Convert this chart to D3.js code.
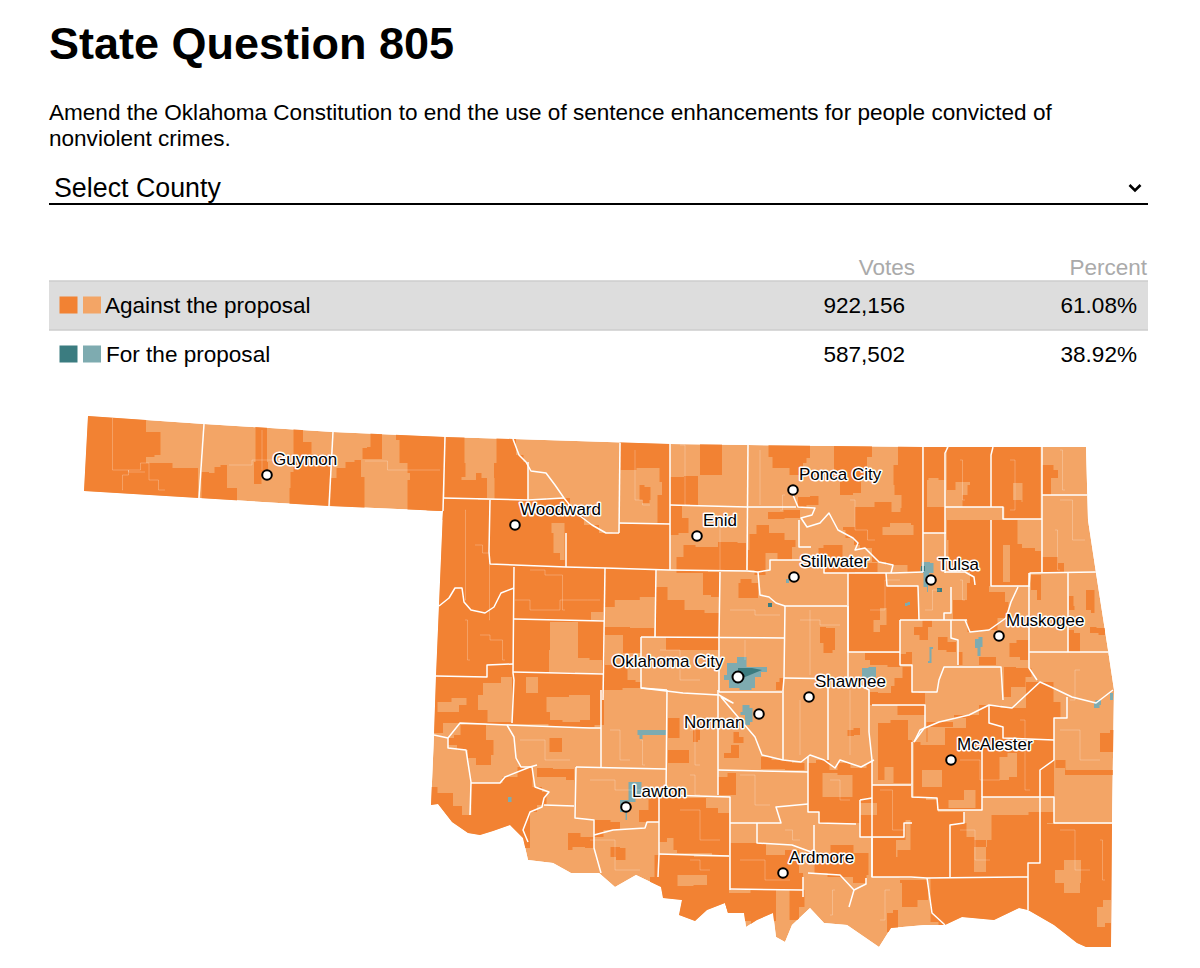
<!DOCTYPE html>
<html>
<head>
<meta charset="utf-8">
<script src="https://cdnjs.cloudflare.com/ajax/libs/d3/7.8.5/d3.min.js"></script>
<style>
  html, body { margin: 0; background: #fff; }
  svg { display: block; font-family: "Liberation Sans", Arial, sans-serif; }
</style>
</head>
<body>
<div id="chart"></div>
<script>
const title = 'State Question 805';
const descLines = [
  'Amend the Oklahoma Constitution to end the use of sentence enhancements for people convicted of',
  'nonviolent crimes.'
];
const selectLabel = 'Select County';
const tableHeads = ['Votes', 'Percent'];
const choices = ['Against the proposal', 'For the proposal'];
const votes = [922156, 587502];
const percents = [61.08, 38.92];
const choiceColors = [['#f28233', '#f3a566'], ['#3b7c80', '#7eabb0']];

const stateOutline = [[88,416],[204,424],[333,432],[445,437],[513,439],[670,444],[748,445],[923,447],[1086,447],
  [1088,520],[1096,573],[1108,650],[1114,690],[1112,823],[1111,947],[1086,947],[1077,943],[1054,925],[1028,910],
  [1019,908],[994,920],[962,917],[945,925],[925,925],[891,928],[879,947],[847,925],[824,923],[810,908],[792,925],
  [785,942],[776,937],[773,913],[757,920],[746,927],[744,913],[728,913],[725,903],[707,910],[695,921],[679,915],
  [682,900],[663,898],[661,887],[636,875],[615,887],[599,873],[571,873],[553,863],[528,860],[523,838],[510,825],
  [493,831],[480,835],[468,833],[452,822],[438,804],[431,805],[434,735],[436,676],[443,511],[329,506],[199,498],[84,491]];

// dark rings run a little past the border where they touch it, the clip trims them
const darkAreas = [
  [[75,505],[75,405],[146,405],[146,432],[158,432],[163,455],[146,457],[146,463],[199,468],[197,505]],
  [[204,472],[214,473],[215,467],[226,465],[228,488],[237,488],[237,510],[199,510]],
  [[256,420],[268,420],[266,462],[270,472],[253,484],[255,462]],
  [[295,420],[300,420],[306,442],[317,455],[331,455],[330,515],[290,515],[289,488],[292,472]],
  [[331,478],[342,468],[349,462],[360,460],[362,477],[367,477],[362,518],[330,518]],
  [[371,425],[381,425],[383,459],[361,459],[364,448],[370,447]],
  [[396,425],[445,425],[443,520],[407,520],[408,480],[412,473],[403,463],[396,440]],
  [[446,425],[465,425],[464,463],[467,477],[456,480],[476,480],[476,473],[487,478],[487,498],[443,498]],
  [[497,430],[513,430],[519,455],[528,462],[528,500],[497,499],[492,478],[496,463]],
  // western block
  [[428,498],[528,500],[564,498],[576,513],[592,525],[606,533],[619,532],[620,524],[670,524],[670,570],[656,570],[655,597],[624,600],[605,607],
   [605,665],[625,665],[630,680],[641,682],[641,688],[604,690],[604,725],[585,727],[512,724],[461,723],[425,733]],
  [[620,430],[670,430],[670,524],[658,523],[657,495],[667,482],[652,468],[621,470]],
  [[638,500],[641,485],[648,487],[653,500],[646,503]],
  [[670,477],[698,476],[698,505],[670,505]],
  [[700,435],[730,435],[714,475],[700,475]],
  [[670,573],[683,557],[684,545],[707,547],[729,542],[746,543],[746,570]],
  [[670,505],[682,506],[682,518],[691,518],[686,533],[671,535]],
  [[768,435],[810,435],[810,458],[803,463],[803,475],[776,468],[769,457]],
  [[834,435],[872,435],[872,457],[862,477],[860,493],[846,495],[834,478]],
  [[900,435],[922,435],[922,572],[893,565],[879,562],[865,548],[855,545],[853,538],[838,530],[848,527],[862,507],[887,502],[896,512],[905,508],[898,495],[891,485],[896,465]],
  [[798,497],[822,496],[815,505],[798,507]],
  [[767,512],[800,510],[800,518],[769,519]],
  [[748,550],[751,534],[762,525],[776,533],[793,540],[798,547],[786,560],[769,553],[762,575],[747,570]],
  [[813,548],[834,545],[851,558],[869,563],[886,572],[824,573],[824,560]],
  [[923,435],[947,435],[945,480],[932,478],[925,495],[945,500],[945,533],[923,533]],
  [[948,435],[993,435],[991,507],[965,507],[960,495],[975,485],[965,482],[946,490]],
  [[993,435],[1039,435],[1042,519],[1006,519],[1003,507],[991,507]],
  [[1042,465],[1065,470],[1051,478],[1051,495],[1042,495]],
  [[1042,557],[1051,557],[1065,563],[1063,572],[1042,572]],
  [[947,520],[991,520],[991,586],[975,585],[965,572],[950,565],[947,540]],
  [[991,520],[1020,520],[1015,544],[1029,548],[1041,551],[1041,573],[1029,573],[1029,586],[991,586]],
  [[955,600],[979,583],[999,592],[1011,602],[1006,618],[989,630],[970,632],[965,620],[951,620]],
  [[1030,575],[1040,575],[1042,600],[1032,590]],
  [[1085,590],[1094,590],[1095,613],[1087,610]],
  [[1068,596],[1079,606],[1070,610]],
  [[1068,630],[1080,633],[1080,652],[1068,652]],
  [[1089,627],[1104,628],[1106,635],[1091,633]],
  [[1006,643],[1027,640],[1029,653],[1027,660],[1013,657]],
  [[979,657],[996,657],[996,665],[979,665]],
  [[1003,667],[1029,668],[1034,677],[1017,687],[1005,697]],
  [[848,573],[886,573],[887,586],[918,586],[919,620],[900,620],[900,652],[848,652]],
  [[913,627],[932,620],[932,627],[924,640],[915,635]],
  [[900,654],[912,652],[912,665],[900,665]],
  [[939,637],[956,642],[956,652],[937,650]],
  [[958,652],[967,660],[958,665]],
  [[865,653],[900,653],[900,667],[875,665],[865,660]],
  [[893,678],[912,667],[912,692],[925,693],[925,715],[870,705],[870,692],[886,693],[896,686]],
  [[605,570],[656,570],[655,597],[624,600],[605,607]],
  [[605,627],[655,628],[653,637],[641,637],[641,653],[605,635]],
  [[656,587],[679,600],[690,610],[719,613],[719,637],[656,637]],
  [[703,572],[719,572],[719,597],[703,595]],
  [[736,583],[745,579],[758,583],[758,598],[741,598]],
  [[665,637],[719,637],[719,650],[667,650]],
  [[776,682],[783,678],[783,690],[776,690]],
  [[820,627],[832,628],[838,650],[827,653],[820,643]],
  // southwest
  [[461,725],[485,725],[487,740],[500,755],[482,765],[470,758],[466,750],[448,745],[448,738],[460,735]],
  [[422,787],[453,793],[453,806],[471,815],[472,783],[500,783],[505,777],[530,767],[535,787],[549,792],[544,805],[530,812],[530,848],[510,837],[493,843],[480,847],[468,845],[452,834],[438,816],[422,817]],
  [[532,768],[574,769],[574,780],[558,777],[542,777]],
  [[548,738],[562,738],[562,752],[551,752]],
  [[594,820],[627,822],[613,830],[594,837]],
  [[638,810],[659,797],[659,822],[640,822]],
  [[567,833],[594,837],[594,848],[576,847],[569,850]],
  [[613,847],[627,848],[624,860],[608,857]],
  [[668,750],[689,750],[689,763],[668,763]],
  [[668,718],[691,740],[668,738]],
  [[695,730],[705,740],[691,742]],
  [[718,777],[737,773],[735,795],[718,795]],
  [[723,753],[739,745],[739,758],[725,758]],
  [[732,732],[746,737],[741,743],[735,743]],
  [[760,757],[783,760],[801,763],[808,770],[762,769]],
  [[659,798],[705,798],[707,808],[729,813],[729,855],[695,853],[659,850]],
  [[659,855],[729,857],[729,913],[725,913],[707,920],[695,931],[672,925],[672,908],[655,906],[650,895],[650,877]],
  [[730,843],[757,843],[775,855],[795,850],[803,873],[803,890],[730,890]],
  [[725,893],[776,890],[776,921],[757,926],[745,921],[725,920]],
  [[787,890],[803,890],[806,907],[792,920]],
  [[808,763],[824,760],[835,770],[840,763],[861,768],[872,763],[872,797],[860,800],[860,823],[819,823],[819,812],[808,812]],
  [[860,800],[872,785],[912,785],[912,837],[860,837]],
  [[877,723],[904,720],[912,740],[912,783],[897,783],[890,767],[879,780]],
  [[914,742],[939,722],[969,715],[989,705],[1012,708],[1040,682],[1067,702],[1054,718],[1054,797],[982,797],[982,810],[938,810],[937,798],[914,797]],
  [[1056,760],[1075,770],[1120,770],[1120,775],[1075,775],[1055,768]],
  [[1100,733],[1120,730],[1120,752],[1100,752]],
  [[914,798],[938,800],[938,812],[964,812],[964,823],[950,825],[950,877],[927,878],[872,877],[872,838],[904,838],[904,823]],
  [[950,825],[964,823],[969,837],[980,840],[1003,815],[1054,812],[1054,823],[1040,824],[1040,863],[1028,863],[1028,877],[950,877]],
  [[1040,824],[1120,824],[1120,956],[1086,956],[1077,952],[1054,934],[1028,919],[1028,863],[1040,863]],
  [[929,878],[1028,877],[1028,917],[1019,917],[994,929],[962,926],[945,934],[932,922]],
  [[902,880],[927,880],[929,900],[906,907],[898,883]],
  [[888,913],[898,910],[898,932],[886,932]],
  [[842,845],[865,853],[872,875],[861,883],[845,877],[810,873],[819,863]],
  [[847,730],[860,728],[860,735],[848,736]]
];

const lightAreas = [
  [[549,622],[578,622],[578,658],[601,660],[603,673],[547,672],[551,650]],
  [[592,612],[603,612],[603,620],[590,620]],
  [[551,523],[564,523],[565,560],[555,553],[552,533]],
  [[548,697],[590,695],[590,720],[570,722],[555,720],[545,712]],
  [[476,695],[490,683],[512,677],[512,722],[495,722],[480,710]],
  [[438,702],[465,698],[468,705],[450,712],[437,712]],
  [[526,677],[538,677],[538,693],[526,693]],
  [[880,527],[900,523],[922,525],[905,535],[885,535]],
  [[872,620],[888,608],[885,625],[875,632]],
  [[1010,483],[1018,483],[1027,502],[1016,500]],
  [[1003,545],[1010,545],[1010,582],[1003,582]],
  [[675,875],[707,875],[707,885],[680,886]],
  [[659,842],[675,838],[672,855],[659,855]],
  [[820,773],[855,775],[850,797],[825,797]],
  [[860,803],[877,803],[877,815],[860,815]],
  [[923,770],[948,770],[936,787],[921,787]],
  [[955,800],[973,790],[978,808],[942,808]],
  [[916,742],[939,727],[967,718],[965,728],[925,745]],
  [[998,757],[1017,753],[1017,777],[1001,780]],
  [[907,820],[914,833],[907,850],[888,857],[904,840]],
  [[975,847],[999,837],[973,872]],
  [[1054,870],[1074,860],[1088,883],[1072,893],[1056,883]],
  [[1095,907],[1111,900],[1111,923],[1099,927]],
  [[926,480],[935,480],[935,497],[945,497],[945,507],[928,507]]
];

const tealLight = [
  [[721,675],[733,663],[741,657],[752,667],[767,667],[767,672],[755,677],[755,688],[748,690],[731,688],[727,680]],
  [[737,712],[748,705],[751,708],[754,722],[746,725],[744,715]],
  [[636,730],[666,730],[666,735],[645,735],[640,739],[639,735]],
  [[633,782],[643,782],[640,797],[631,802],[627,808],[627,820],[624,812],[616,807],[624,800]],
  [[919,567],[924,562],[936,563],[931,573],[927,583],[929,592],[925,587],[922,573]],
  [[974,639],[983,637],[982,647],[979,656],[976,648]],
  [[927,661],[932,647],[934,649],[929,663]],
  [[862,668],[875,667],[877,677],[862,678]],
  [[1092,702],[1099,700],[1103,705],[1096,708]],
  [[507,797],[514,797],[509,802]],
  [[905,603],[910,602],[910,605],[905,606]],
  [[786,579],[792,582],[786,583]],
  [[1110,693],[1113,693],[1113,700],[1110,700]]
];

const tealDark = [
  [[738,668],[752,668],[762,670],[745,677],[738,677]],
  [[768,603],[772,603],[772,607],[768,607]],
  [[921,566],[925,566],[925,571],[921,571]],
  [[937,588],[942,588],[942,592],[937,592]]
];

const countyLines = [
  [[204,424],[199,498]], [[333,432],[329,506]], [[445,437],[443,511]],
  [[443,498],[528,500],[564,498]],
  [[490,500],[489,552],[490,564],[566,567],[605,568],[669,570],[747,571],[758,572]],
  [[528,462],[528,500]],
  [[513,439],[519,455],[526,462],[531,471],[546,473],[555,485],[564,498],[576,513],[592,525],[606,533],[619,533]],
  [[566,567],[566,533]],
  [[620,443],[619,533]],
  [[619,523],[670,524]],
  [[670,444],[670,570]],
  [[670,505],[747,507],[796,507]],
  [[748,445],[747,570]],
  [[793,495],[798,507],[815,508],[812,515],[801,518],[807,527],[820,523],[829,513],[838,530],[853,538],[858,543],[855,550],[865,548],[879,562],[893,565],[891,573]],
  [[799,520],[799,547],[811,547]],
  [[758,572],[760,595],[769,597],[776,603],[785,606],[847,606]],
  [[758,572],[770,570],[770,560],[786,560],[811,560]],
  [[824,560],[824,573],[893,573],[923,572]],
  [[848,573],[848,652],[900,652]],
  [[785,606],[784,678],[783,690],[783,760]],
  [[720,572],[719,637],[719,692]],
  [[656,570],[655,637]],
  [[641,637],[784,638]],
  [[641,637],[641,688],[683,693],[719,695],[733,703],[721,697]],
  [[719,692],[782,692]],
  [[784,678],[848,679],[848,652]],
  [[721,697],[732,710],[755,737],[762,755],[783,760],[801,762],[810,755],[824,760],[835,768],[840,760],[861,767],[874,760]],
  [[828,680],[828,760]],
  [[848,679],[869,690],[869,732],[872,760],[872,877]],
  [[872,705],[925,705],[925,727],[914,742]],
  [[914,742],[920,730],[939,722],[969,715],[989,705],[1012,708],[1040,682],[1051,687],[1072,697],[1096,703],[1113,690]],
  [[900,620],[900,665],[912,665],[912,692],[937,692],[939,680],[944,667],[1001,667],[1003,700]],
  [[900,620],[967,620]],
  [[951,620],[951,638],[958,640],[958,665]],
  [[965,620],[970,632],[989,630],[1006,618],[1011,602],[1018,587]],
  [[1029,587],[1030,573],[1096,572]],
  [[1029,573],[1029,668],[1037,680]],
  [[1029,652],[1108,652]],
  [[1068,573],[1068,652]],
  [[923,447],[923,572]],
  [[923,533],[946,533]],
  [[948,447],[945,453],[945,573]],
  [[945,507],[1003,507],[1003,519],[1042,519]],
  [[993,447],[991,455],[991,507]],
  [[991,520],[991,586],[1029,586]],
  [[1042,447],[1042,573]],
  [[1042,495],[1087,495]],
  [[886,573],[887,586],[918,586],[919,620]],
  [[951,587],[951,613],[944,613],[944,620]],
  [[975,585],[974,577],[965,572],[945,572]],
  [[848,606],[848,652]],
  [[439,606],[449,598],[455,588],[462,588],[464,602],[471,610],[485,613],[494,607],[501,593],[514,588]],
  [[514,567],[513,673],[514,680],[512,723]],
  [[514,619],[604,621]],
  [[605,568],[603,700]],
  [[513,672],[603,674]],
  [[436,676],[487,677],[487,665],[513,664]],
  [[434,735],[448,738],[448,748],[466,750],[471,782],[470,815]],
  [[448,738],[460,723],[507,725],[590,728],[601,728]],
  [[471,783],[500,783],[505,777],[530,767],[537,765]],
  [[507,725],[514,737],[516,758],[521,767],[532,767],[535,787],[549,792],[544,798],[542,807],[530,812],[523,830],[528,842]],
  [[544,805],[574,806]],
  [[576,767],[575,818],[594,820],[594,848],[601,873]],
  [[576,767],[666,769]],
  [[667,690],[666,795],[730,797],[730,890]],
  [[601,690],[601,767]],
  [[641,688],[667,690]],
  [[718,690],[718,795]],
  [[718,770],[808,772]],
  [[808,757],[808,812],[819,812],[819,823],[856,824]],
  [[730,823],[781,823],[776,807],[808,804]],
  [[757,823],[757,843],[792,845],[814,853],[814,825]],
  [[808,873],[840,875],[854,890],[849,907]],
  [[803,877],[803,897]],
  [[730,889],[803,890]],
  [[659,797],[659,855],[658,877]],
  [[659,854],[729,856]],
  [[594,835],[613,830],[645,828],[647,822],[659,822]],
  [[860,800],[860,837],[904,837],[904,823],[912,823]],
  [[872,785],[911,785]],
  [[872,798],[860,800]],
  [[912,742],[912,797],[937,798],[938,810],[982,810],[982,797],[1054,797],[1054,823],[1113,823]],
  [[1040,824],[1040,863],[1028,863],[1028,910]],
  [[1040,824],[1040,770],[1054,760],[1054,718],[1067,718],[1067,697]],
  [[989,705],[989,723],[1003,727],[1003,738],[1054,740]],
  [[982,748],[982,797]],
  [[964,812],[964,823],[950,825],[950,877]],
  [[872,838],[872,877],[911,877],[927,878],[1028,877]],
  [[866,878],[866,884],[854,890]],
  [[927,878],[932,913],[945,925]]
];

// faint precinct edges
const precinctLines = [
  [[113,418],[112,470],[145,472]], [[146,463],[152,480],[165,490]], [[123,490],[122,475],[135,470],[146,463]],
  [[262,430],[262,470]], [[229,465],[275,460]], [[365,461],[410,470],[440,470]],
  [[466,510],[465,600]], [[490,565],[489,620]], [[475,545],[490,553]], [[515,600],[545,610],[575,600],[600,600]],
  [[465,620],[470,660]], [[480,635],[500,640],[505,660]], [[530,570],[560,575],[565,610]],
  [[635,450],[635,500],[650,505]], [[680,445],[690,505]], [[720,520],[720,570]], [[760,450],[760,505]],
  [[780,510],[785,495]], [[850,500],[860,530],[875,540]], [[960,460],[965,500]], [[1010,460],[1020,480],[1010,510]],
  [[1060,450],[1065,490]], [[1060,500],[1085,540]], [[1055,530],[1060,570]], [[900,580],[870,610]],
  [[940,590],[925,610]], [[960,580],[965,600]], [[800,620],[840,625]], [[810,610],[810,675]],
  [[730,610],[780,615]], [[660,650],[700,680]], [[745,640],[745,660]], [[800,700],[800,755]],
  [[850,690],[850,755]], [[640,740],[645,765]], [[610,730],[630,760]], [[690,730],[700,765]], [[690,775],[700,795]],
  [[520,740],[570,760]], [[590,780],[640,790]], [[590,840],[640,870]], [[740,775],[770,805]], [[785,830],[800,840]],
  [[830,780],[850,800]], [[880,790],[905,830]], [[960,760],[1000,780]], [[1020,720],[1030,790]], [[1060,730],[1100,760]],
  [[1080,670],[1070,700]], [[1060,830],[1090,870]], [[1100,840],[1105,880]], [[960,830],[990,860]], [[890,890],[880,920]],
  [[835,890],[830,915]], [[740,860],[790,880]], [[680,810],[720,840]], [[690,860],[710,870]]
];

const cities = [
  { name: 'Guymon', at: [267,475], label: [273,465] },
  { name: 'Woodward', at: [515,525], label: [520,515] },
  { name: 'Enid', at: [697,536], label: [703,526] },
  { name: 'Ponca City', at: [793,490], label: [799,480] },
  { name: 'Stillwater', at: [794,577], label: [800,567] },
  { name: 'Tulsa', at: [931,580], label: [938,570] },
  { name: 'Muskogee', at: [999,636], label: [1006,626] },
  { name: 'Oklahoma City', at: [738,677], label: [612,667], big: true },
  { name: 'Shawnee', at: [809,697], label: [815,687] },
  { name: 'Norman', at: [759,714], label: [684,728] },
  { name: 'McAlester', at: [951,760], label: [957,750] },
  { name: 'Lawton', at: [626,807], label: [632,797] },
  { name: 'Ardmore', at: [783,873], label: [789,863] }
];

const svg = d3.select('#chart').append('svg').attr('width', 1200).attr('height', 968);

// header
svg.append('text').attr('x', 49).attr('y', 59)
  .attr('font-size', 45).attr('font-weight', 700).attr('fill', '#000').text(title);

svg.selectAll('text.desc').data(descLines).enter().append('text')
  .attr('class', 'desc').attr('x', 49).attr('y', (d, i) => 120 + i * 26)
  .attr('font-size', 22.55).attr('fill', '#000').text(d => d);

svg.append('text').attr('x', 54).attr('y', 197).attr('font-size', 26.8).attr('fill', '#000').text(selectLabel);
svg.append('path').attr('d', 'M1129.5 185l5.5 5.5 5.5-5.5').attr('fill', 'none').attr('stroke', '#000').attr('stroke-width', 2.6);
svg.append('line').attr('x1', 49).attr('x2', 1148).attr('y1', 204).attr('y2', 204).attr('stroke', '#000').attr('stroke-width', 2);

// results table
const rowY = d3.scaleBand().domain(choices).range([281, 379]);
const fmtVotes = d3.format(',');

svg.append('text').attr('x', 915).attr('y', 275).attr('text-anchor', 'end')
  .attr('font-size', 22.5).attr('fill', '#aaa').text(tableHeads[0]);
svg.append('text').attr('x', 1147).attr('y', 275).attr('text-anchor', 'end')
  .attr('font-size', 22.5).attr('fill', '#aaa').text(tableHeads[1]);

svg.append('rect').attr('x', 49).attr('y', rowY(choices[0])).attr('width', 1099).attr('height', rowY.bandwidth())
  .attr('fill', '#ddd');
[281, 330].forEach(y => {
  svg.append('line').attr('x1', 49).attr('x2', 1148).attr('y1', y).attr('y2', y).attr('stroke', '#ccc').attr('stroke-width', 1.5);
});

const rows = svg.selectAll('g.row').data(choices).enter().append('g')
  .attr('class', 'row').attr('transform', d => `translate(0,${rowY(d)})`);

rows.selectAll('rect').data((d, i) => choiceColors[i]).enter().append('rect')
  .attr('x', (d, i) => 59.5 + i * 23.5).attr('y', 15.5).attr('width', 18).attr('height', 17).attr('fill', d => d);

rows.append('text').attr('x', (d, i) => 105 + i).attr('y', 31.5).attr('font-size', 22.55).attr('fill', '#000').text(d => d);
rows.append('text').attr('x', 905).attr('y', 31.5).attr('text-anchor', 'end').attr('font-size', 22.55).attr('fill', '#000')
  .text((d, i) => fmtVotes(votes[i]));
rows.append('text').attr('x', 1137).attr('y', 31.5).attr('text-anchor', 'end').attr('font-size', 22.55).attr('fill', '#000')
  .text((d, i) => percents[i].toFixed(2) + '%');

// map
const asPolygon = ring => ({ type: 'Polygon', coordinates: [ring.concat([ring[0]])] });
const stateFeature = asPolygon(stateOutline);

const projection = d3.geoIdentity().fitExtent([[84, 416], [1114, 947]], stateFeature);
const path = d3.geoPath(projection);

// precinct edges follow section lines, so areas are drawn stepped
const stepped = d3.line().x(d => projection(d)[0]).y(d => projection(d)[1]).curve(d3.curveStep);
const plain = d3.line().x(d => projection(d)[0]).y(d => projection(d)[1]);

svg.append('clipPath').attr('id', 'state').append('path').attr('d', path(stateFeature));

const map = svg.append('g').attr('clip-path', 'url(#state)');

map.append('path').attr('d', path(stateFeature)).attr('fill', '#f3a566');

function fillLayer(rings, color, gen) {
  map.append('g').selectAll('path').data(rings).enter().append('path')
    .attr('d', d => gen(d.concat([d[0]])) + 'Z').attr('fill', color);
}
fillLayer(darkAreas, '#f28233', stepped);
fillLayer(lightAreas, '#f3a566', stepped);
fillLayer(tealLight, '#7eabb0', stepped);
fillLayer(tealDark, '#3b7c80', plain);

map.append('g').selectAll('path').data(precinctLines).enter().append('path')
  .attr('d', d => stepped(d)).attr('fill', 'none')
  .attr('stroke', '#fff').attr('stroke-opacity', 0.3).attr('stroke-width', 0.8);

map.append('g').selectAll('path').data(countyLines).enter().append('path')
  .attr('d', d => plain(d)).attr('fill', 'none')
  .attr('stroke', '#fff').attr('stroke-width', 1.5).attr('stroke-linejoin', 'round');

// cities
const cityG = svg.append('g');
cityG.selectAll('circle').data(cities).enter().append('circle')
  .attr('cx', d => projection(d.at)[0]).attr('cy', d => projection(d.at)[1])
  .attr('r', d => d.big ? 5.5 : 4.8).attr('fill', '#fff').attr('stroke', '#000').attr('stroke-width', 2);

cityG.selectAll('text').data(cities).enter().append('text')
  .attr('x', d => projection(d.label)[0]).attr('y', d => projection(d.label)[1])
  .attr('font-size', 17).attr('fill', '#000')
  .attr('stroke', '#fff').attr('stroke-width', 3).attr('stroke-linejoin', 'round')
  .attr('paint-order', 'stroke').text(d => d.name);
</script>
</body>
</html>
